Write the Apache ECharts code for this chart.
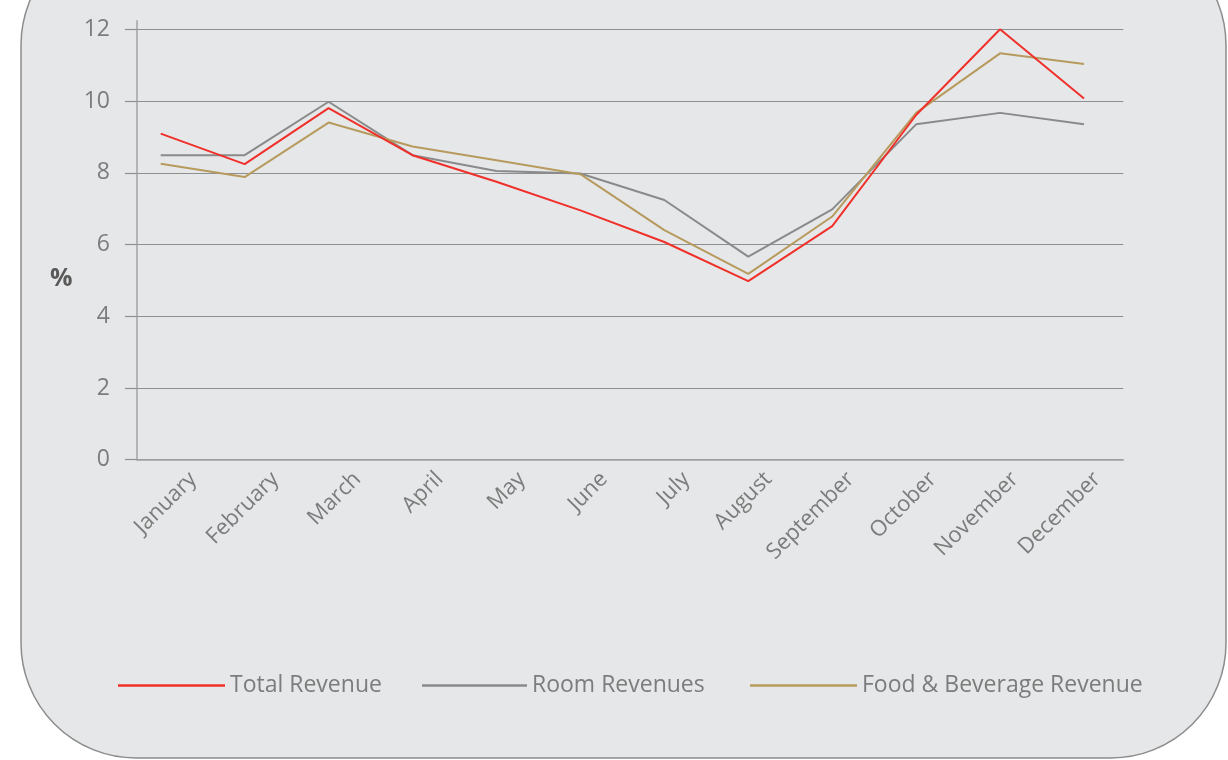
<!DOCTYPE html>
<html>
<head>
<meta charset="utf-8">
<script src="https://cdn.jsdelivr.net/npm/echarts@6/dist/echarts.min.js"></script>
<style>
  html, body { margin: 0; padding: 0; background: #ffffff; }
  #chart { width: 1228px; height: 760px; }
</style>
</head>
<body>
<div id="chart"></div>
<script>
// months on the x axis
const months = ['January', 'February', 'March', 'April', 'May', 'June', 'July',
  'August', 'September', 'October', 'November', 'December']
// % values
const totalRevenue = [9.09, 8.24, 9.8, 8.49, 7.75, 6.95, 6.07, 4.98, 6.51, 9.61, 12.0, 10.07]
const roomRevenues = [8.49, 8.49, 9.98, 8.49, 8.05, 7.98, 7.24, 5.66, 6.98, 9.35, 9.67, 9.35]
const fbRevenue = [8.25, 7.88, 9.4, 8.73, 8.35, 7.96, 6.4, 5.18, 6.78, 9.67, 11.33, 11.03]
// y axis ticks
const yMin = 0
const yMax = 12
const yStep = 2

const labelColor = '#7c7c7c'
const gridColor = '#8f8f8f'
const font = 'Open Sans'

const chart = echarts.init(document.getElementById('chart'))

chart.setOption({
  animation: false,
  textStyle: { fontFamily: font },
  graphic: [
    {
      // rounded panel behind the chart
      type: 'rect',
      z: -10,
      silent: true,
      shape: { x: 21, y: -70, width: 1205, height: 828, r: 115 },
      style: { fill: '#e6e7e8', stroke: '#8c8c8c', lineWidth: 1.5 }
    }
  ],
  title: {
    text: '%',
    left: 50,
    top: 266,
    padding: 0,
    textStyle: { fontFamily: font, fontSize: 25, fontWeight: 'bold', color: '#5a5a5a' }
  },
  grid: [
    // main axes: gridlines, ticks, y labels
    { left: 137, right: 104.7, top: 29.3, bottom: 300.3 },
    // y axis line runs a bit above the 12 line
    { left: 137, right: 104.7, top: 20.7, bottom: 300.3 },
    // the lines themselves sit on their own spacing
    { left: 160.7, right: 144, top: 29.3, bottom: 300.3 },
    // month labels
    { left: 152, right: 89.7, top: 29.3, bottom: 300.3 }
  ],
  xAxis: [
    {
      gridIndex: 0,
      type: 'category',
      data: months,
      boundaryGap: true,
      axisLine: { lineStyle: { color: '#a3a3a3', width: 1.5 } },
      axisTick: { length: 7, lineStyle: { color: '#a3a3a3', width: 1.5 } },
      axisLabel: { show: false },
      splitLine: { show: false }
    },
    {
      gridIndex: 1,
      type: 'category',
      data: months,
      show: false
    },
    {
      gridIndex: 2,
      type: 'category',
      data: months,
      boundaryGap: false,
      show: false
    },
    {
      gridIndex: 3,
      type: 'category',
      data: months,
      boundaryGap: true,
      axisLine: { show: false },
      axisTick: { show: false },
      splitLine: { show: false },
      axisLabel: {
        interval: 0,
        rotate: 45,
        margin: 16,
        color: labelColor,
        fontFamily: font,
        fontSize: 22
      }
    }
  ],
  yAxis: [
    {
      gridIndex: 0,
      type: 'value',
      min: yMin,
      max: yMax,
      interval: yStep,
      axisLine: { show: false },
      axisTick: { show: true, length: 12, lineStyle: { color: gridColor, width: 1.2 } },
      axisLabel: { margin: 27, color: labelColor, fontFamily: font, fontSize: 23 },
      splitLine: { lineStyle: { color: gridColor, width: 1.2 } }
    },
    {
      gridIndex: 1,
      type: 'value',
      min: 0,
      max: 1,
      axisLine: { show: true, lineStyle: { color: '#a3a3a3', width: 1.5 } },
      axisTick: { show: false },
      axisLabel: { show: false },
      splitLine: { show: false }
    },
    {
      gridIndex: 2,
      type: 'value',
      min: yMin,
      max: yMax,
      show: false,
      splitLine: { show: false }
    },
    {
      gridIndex: 3,
      type: 'value',
      show: false,
      splitLine: { show: false }
    }
  ],
  legend: [
    {
      data: ['Total Revenue'],
      left: 118,
      top: 674,
      padding: 0,
      icon: 'rect',
      itemWidth: 107,
      itemHeight: 2.5,
      textStyle: { color: labelColor, fontFamily: font, fontSize: 23 }
    },
    {
      data: ['Room Revenues'],
      left: 422,
      top: 674,
      padding: 0,
      icon: 'rect',
      itemWidth: 105,
      itemHeight: 2.5,
      textStyle: { color: labelColor, fontFamily: font, fontSize: 23 }
    },
    {
      data: ['Food & Beverage Revenue'],
      left: 750,
      top: 674,
      padding: 0,
      icon: 'rect',
      itemWidth: 107,
      itemHeight: 2.5,
      textStyle: { color: labelColor, fontFamily: font, fontSize: 23 }
    }
  ],
  series: [
    {
      name: 'Room Revenues',
      type: 'line',
      xAxisIndex: 2,
      yAxisIndex: 2,
      data: roomRevenues,
      showSymbol: false,
      color: '#8a8a8a',
      lineStyle: { width: 2 }
    },
    {
      name: 'Food & Beverage Revenue',
      type: 'line',
      xAxisIndex: 2,
      yAxisIndex: 2,
      data: fbRevenue,
      showSymbol: false,
      color: '#b79b5e',
      lineStyle: { width: 2 }
    },
    {
      name: 'Total Revenue',
      type: 'line',
      xAxisIndex: 2,
      yAxisIndex: 2,
      data: totalRevenue,
      showSymbol: false,
      color: '#f0302a',
      lineStyle: { width: 2 }
    }
  ]
})
</script>
</body>
</html>
